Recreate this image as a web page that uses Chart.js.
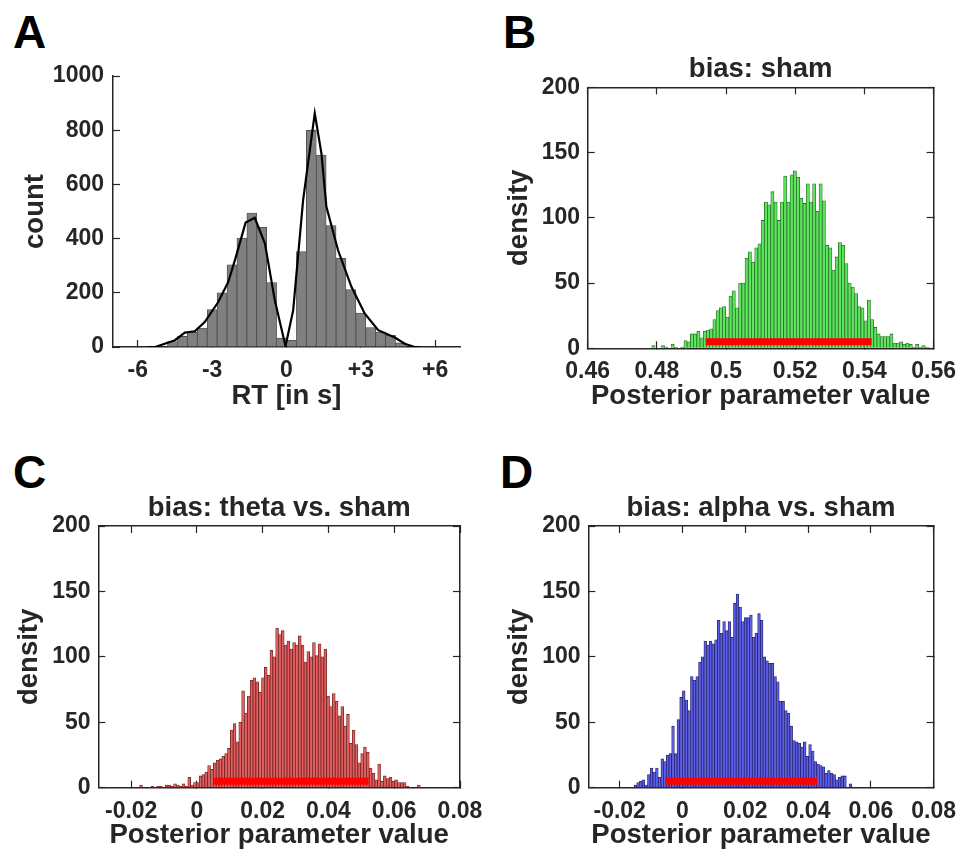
<!DOCTYPE html>
<html>
<head>
<meta charset="utf-8">
<script src="https://cdn.jsdelivr.net/npm/chart.js@4.4.1/dist/chart.umd.min.js"></script>
<style>
  body { margin: 0; background: #fff; width: 973px; height: 854px; position: relative; overflow: hidden; font-family: "Liberation Sans", Arial, sans-serif; }
  canvas { position: absolute; }
  .letter { position: absolute; font-weight: bold; font-size: 46px; line-height: 46px; color: #000; }
</style>
</head>
<body>
<div class="letter" style="left:13px;top:9px">A</div>
<div class="letter" style="left:503px;top:9px">B</div>
<div class="letter" style="left:13px;top:449px">C</div>
<div class="letter" style="left:500px;top:449px">D</div>

<canvas id="chartA" style="left:0;top:0" width="480" height="430"></canvas>
<canvas id="chartB" style="left:480px;top:0" width="493" height="430"></canvas>
<canvas id="chartC" style="left:0;top:430px" width="510" height="424"></canvas>
<canvas id="chartD" style="left:480px;top:430px" width="493" height="424"></canvas>

<script>
// ---- Panel A: RT histogram + density line ----
const aBinCenters = [-4.6, -4.2, -3.8, -3.4, -3.0, -2.6, -2.2, -1.8, -1.4, -1.0, -0.6, -0.2,
                     0.2, 0.6, 1.0, 1.4, 1.8, 2.2, 2.6, 3.0, 3.4, 3.8, 4.2, 4.6];
const aCounts = [20, 39, 54, 70, 138, 200, 303, 402, 494, 442, 238, 33,
                 25, 352, 800, 708, 448, 327, 212, 125, 72, 55, 43, 15];
const aLineX = [-5.6, -5.3, -4.5, -4.1, -3.7, -3.3, -2.76, -2.35, -2.05, -1.65, -1.28, -0.87, -0.47, -0.04,
                0.27, 0.67, 1.14, 1.41, 1.61, 2.08, 2.62, 3.16, 3.7, 4.37, 4.77, 5.17, 5.4];
const aLineY = [0, 0, 25, 53, 58, 92, 165, 240, 330, 459, 477, 382, 172, 3,
                136, 542, 862, 714, 517, 357, 222, 123, 62, 35, 12, 0, 0];
const aXTicks = [-6, -3, 0, 3, 6];
const aYTicks = [0, 200, 400, 600, 800, 1000];

// ---- Panel B: bias sham ----
const bBinStart = 0.47805;
const bBinWidth = 0.00093;
const bDensity = [0, 2, 0, 0, 2, 1, 0, 3, 1, 0, 1, 6, 5, 11, 11, 13, 8, 13, 14, 15, 22, 29, 31, 32, 24,
                  40, 44, 31, 50, 50, 69, 74, 66, 77, 80, 98, 112, 110, 120, 112, 98, 112, 132,
                  112, 133, 136, 131, 115, 111, 126, 112, 126, 105, 126, 113, 79, 77, 60, 70, 81, 79,
                  65, 50, 47, 42, 32, 31, 21, 37, 22, 16, 11, 9, 9, 9, 11, 4, 4, 5, 3, 4, 3, 1, 3, 1, 2, 1];
const bInterval = [0.4941, 0.5421];
const bXTicks = [0.46, 0.48, 0.5, 0.52, 0.54, 0.56];

// ---- Panel C: theta vs. sham ----
const cBinStart = -0.0170;
const cBinWidth = 0.000862;
const cDensity = [2, 0, 0, 0, 1, 0, 1, 1, 0, 2, 2, 1, 3, 2, 1, 3, 1, 8, 2, 4, 4, 9, 10, 12, 17,
                  14, 19, 21, 22, 24, 26, 30, 44, 49, 35, 50, 74, 57, 70, 82, 84, 81, 73, 84, 92,
                  86, 105, 100, 122,
                  117, 120, 109, 112, 106, 111, 109, 116, 109, 96, 104, 100, 111, 101, 110, 100, 106,
                  70, 62, 72, 66, 55, 62, 47, 56, 34, 44, 33, 19, 26, 31, 27, 15, 11, 6, 18, 5, 9, 7, 8,
                  5, 6, 4, 4, 4, 1, 0, 0, 0, 2];
const cInterval = [0.0052, 0.0522];

// ---- Panel D: alpha vs. sham ----
const dBinStart = -0.0150;
const dBinWidth = 0.000856;
const dDensity = [2, 4, 5, 6, 2, 10, 15, 12, 15, 8, 22, 20, 25, 26, 47, 26, 52, 69, 74, 67, 59, 85, 82, 85, 96,
                  100, 112, 109, 112, 110, 113, 128, 118, 127, 120, 127, 115, 141,
                  148, 138, 127, 130, 130, 132, 115, 118, 133, 128, 100, 97, 95, 95, 85, 81, 66, 66, 59, 57,
                  47, 36, 35, 34, 31, 35, 24, 33, 28, 20, 18, 17, 16, 11, 13, 11, 10, 6, 8, 9, 9, 0, 3];
const dInterval = [-0.0055, 0.0429];

const cdXTicks = [-0.02, 0, 0.02, 0.04, 0.06, 0.08];
const densityTicks = [0, 50, 100, 150, 200];
const intervalLevel = 5;

const INK = "#262626";
const FONT = "'Liberation Sans', Arial, sans-serif";

const setTicks = values => scale => { scale.ticks = values.map(v => ({ value: v })); };
const fixWidth = w => scale => { scale.width = w; };
const fixHeight = h => scale => { scale.height = h; };

function tickFont() { return { family: FONT, size: 23, weight: "bold" }; }
function titleFont() { return { family: FONT, size: 27.5, weight: "bold" }; }

function xAxis(o) {
  return {
    type: "linear", position: "bottom", min: o.min, max: o.max, offset: false,
    afterBuildTicks: setTicks(o.ticks),
    afterFit: fixHeight(o.height),
    border: { color: INK, width: 1.5 },
    grid: { drawOnChartArea: false, tickLength: -7, tickWidth: 1.2, tickColor: INK, offset: false },
    ticks: { color: INK, padding: 17, font: tickFont(), maxRotation: 0, autoSkip: false, callback: o.format || (v => String(v)) },
    title: { display: true, text: o.title, color: INK, font: titleFont(), padding: { top: 0, bottom: o.titlePad } }
  };
}

function yAxis(o) {
  return {
    type: "linear", position: "left", min: 0, max: o.max,
    afterBuildTicks: setTicks(o.ticks),
    afterFit: fixWidth(o.width),
    border: { color: INK, width: 1.5 },
    grid: { drawOnChartArea: false, tickLength: -7, tickWidth: 1.2, tickColor: INK },
    ticks: { color: INK, padding: o.tickPad, font: tickFont(), autoSkip: false, callback: v => String(v) },
    title: { display: true, text: o.title, color: INK, font: titleFont(), padding: { top: o.titlePad, bottom: 0 } }
  };
}

// Gegenachsen oben/rechts, damit der Rahmen geschlossen ist
function frameAxes(xmin, xmax, xticks, ymax, yticks) {
  const common = {
    type: "linear",
    border: { color: INK, width: 1.5 },
    grid: { drawOnChartArea: false, tickLength: -7, tickWidth: 1.2, tickColor: INK, offset: false },
    ticks: { display: false }
  };
  return {
    x2: Object.assign({}, common, { position: "top", min: xmin, max: xmax, offset: false, afterBuildTicks: setTicks(xticks), afterFit: fixHeight(0) }),
    y2: Object.assign({}, common, { position: "right", min: 0, max: ymax, afterBuildTicks: setTicks(yticks), afterFit: fixWidth(0) })
  };
}

function binPoints(start, width, values) {
  return values.map((v, i) => ({ x: start + i * width, y: v }));
}

function barSet(points, fill, edge) {
  return {
    type: "bar", data: points, backgroundColor: fill, borderColor: edge, borderWidth: 0.8,
    barPercentage: 1, categoryPercentage: 1, grouped: false, order: 2
  };
}

function intervalSet(range) {
  return {
    type: "line", data: [{ x: range[0], y: intervalLevel }, { x: range[1], y: intervalLevel }],
    borderColor: "#ff0000", borderWidth: 7, borderCapStyle: "butt", pointRadius: 0, order: 1
  };
}

function baseOptions(padding, title) {
  return {
    responsive: false, animation: false, devicePixelRatio: 1,
    layout: { padding: padding },
    plugins: {
      legend: { display: false },
      tooltip: { enabled: false },
      title: title ? {
        display: true, text: title.text, color: INK, font: titleFont(), fullSize: false,
        padding: { top: 0, bottom: title.pad }
      } : { display: false }
    }
  };
}

// Panel A
(function () {
  const opts = baseOptions({ top: 76, right: 20, left: 0, bottom: 0 }, null);
  opts.scales = {
    x: xAxis({ min: -7, max: 7, ticks: aXTicks, height: 83, title: "RT [in s]", titlePad: 17,
               format: v => (v > 0 ? "+" + v : String(v)) }),
    y: yAxis({ max: 1000, ticks: aYTicks, width: 113, tickPad: 16, title: "count", titlePad: 19 })
  };
  new Chart(document.getElementById("chartA"), {
    type: "bar",
    data: {
      datasets: [
        {
          type: "line", data: aLineX.map((x, i) => ({ x: x, y: aLineY[i] })),
          borderColor: "#000", borderWidth: 2.2, pointRadius: 0, tension: 0, order: 1
        },
        barSet(aBinCenters.map((x, i) => ({ x: x, y: aCounts[i] })), "#808080", "#4a4a4a")
      ]
    },
    options: opts
  });
})();

function posteriorPanel(id, cfg) {
  const opts = baseOptions({ top: cfg.top, right: cfg.right, left: 0, bottom: 0 }, { text: cfg.title, pad: cfg.titleGap });
  opts.scales = Object.assign({
    x: xAxis({ min: cfg.xmin, max: cfg.xmax, ticks: cfg.xticks, height: cfg.xHeight,
               title: "Posterior parameter value", titlePad: cfg.xTitlePad }),
    y: yAxis({ max: 200, ticks: densityTicks, width: cfg.yWidth, tickPad: 14.7, title: "density", titlePad: cfg.yTitlePad })
  }, frameAxes(cfg.xmin, cfg.xmax, cfg.xticks, 200, densityTicks));
  new Chart(document.getElementById(id), {
    type: "bar",
    data: { datasets: [intervalSet(cfg.interval), barSet(cfg.points, cfg.fill, cfg.edge)] },
    options: opts
  });
}

posteriorPanel("chartB", {
  title: "bias: sham", top: 53.3, titleGap: 1, right: 24.7, yWidth: 107.7, xHeight: 81.7,
  xmin: 0.46, xmax: 0.56, xticks: bXTicks, xTitlePad: 17, yTitlePad: 23,
  points: binPoints(bBinStart, bBinWidth, bDensity), interval: bInterval,
  fill: "#5ce65c", edge: "#2c6e2c"
});

posteriorPanel("chartC", {
  title: "bias: theta vs. sham", top: 62.3, titleGap: 0.7, right: 50, yWidth: 98.3, xHeight: 66.3,
  xmin: -0.03, xmax: 0.08, xticks: cdXTicks, xTitlePad: 1.7, yTitlePad: 13,
  points: binPoints(cBinStart, cBinWidth, cDensity), interval: cInterval,
  fill: "#e35e5e", edge: "#6e2424"
});

posteriorPanel("chartD", {
  title: "bias: alpha vs. sham", top: 62.3, titleGap: 0.7, right: 24, yWidth: 108.3, xHeight: 66.3,
  xmin: -0.03, xmax: 0.08, xticks: cdXTicks, xTitlePad: 1.7, yTitlePad: 23,
  points: binPoints(dBinStart, dBinWidth, dDensity), interval: dInterval,
  fill: "#5e5ee6", edge: "#24246e"
});
</script>
</body>
</html>
